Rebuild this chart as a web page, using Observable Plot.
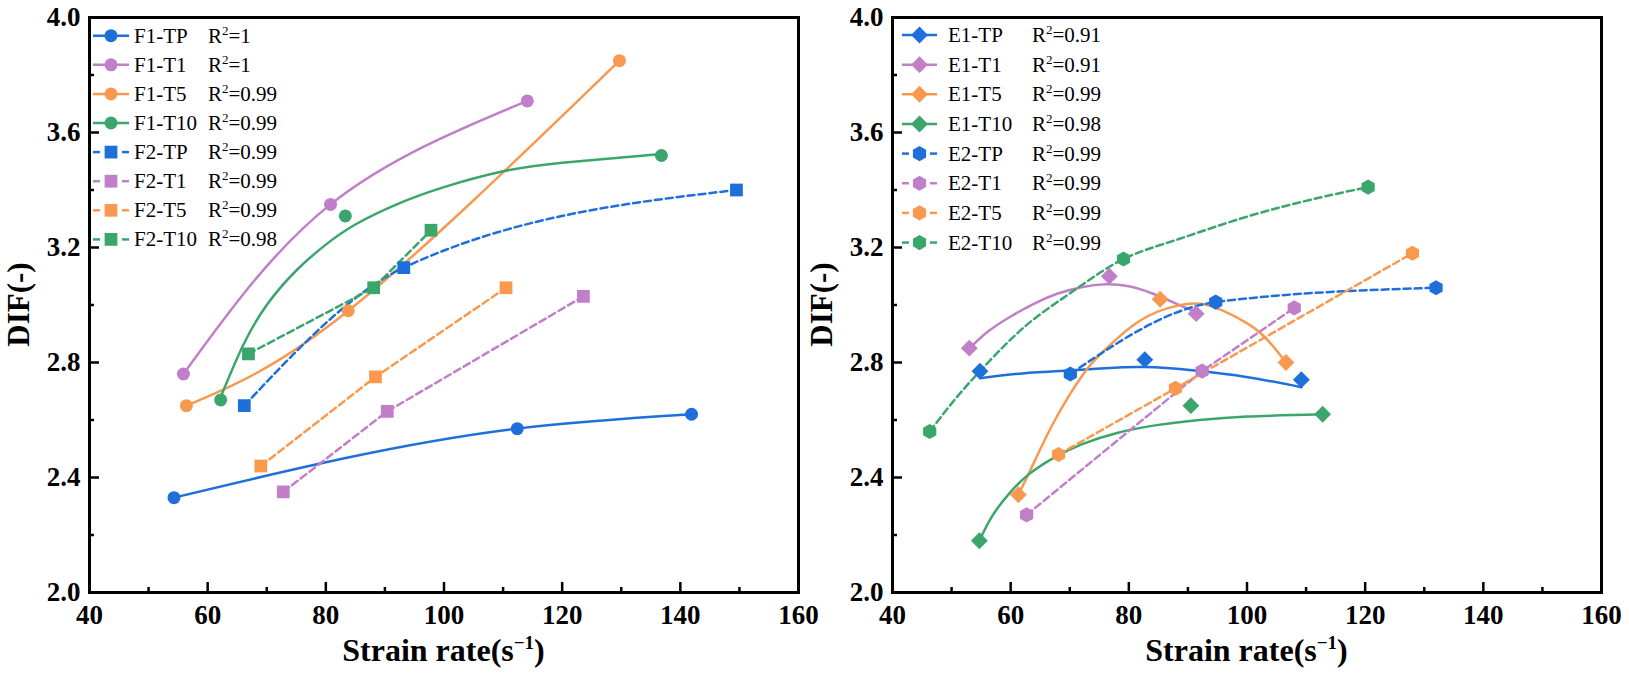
<!DOCTYPE html>
<html><head><meta charset="utf-8">
<script src="https://cdn.jsdelivr.net/npm/d3@7"></script>
<script src="https://cdn.jsdelivr.net/npm/@observablehq/plot@0.6"></script>
<style>
body{margin:0;background:#fff;}
#wrap{position:relative;width:1629px;height:676px;overflow:hidden;background:#fff;}
.panel{position:absolute;top:0;}
</style></head><body>
<div id="wrap"><div id="left" class="panel" style="left:0px"></div><div id="right" class="panel" style="left:803px"></div></div>
<script>
// ---- axis ticks ----
const xMajor = [40, 60, 80, 100, 120, 140, 160];
const xMinor = [50, 70, 90, 110, 130, 150];
const yMajor = [2.0, 2.4, 2.8, 3.2, 3.6, 4.0];
const yMinor = [2.2, 2.6, 3.0, 3.4, 3.8];

// ---- left panel data (strain rate, DIF) ----
const f1TP  = [[54.3, 2.33], [112.4, 2.57], [141.9, 2.62]];
const f1T1  = [[55.9, 2.76], [80.8, 3.35], [114.1, 3.71]];
const f1T5  = [[56.4, 2.65], [83.8, 2.98], [129.7, 3.85]];
const f1T10 = [[62.2, 2.67], [83.3, 3.31], [136.8, 3.52]];
const f1T10Fit = [[62.2, 2.68], [66.0, 2.86], [70.0, 3.00], [75.0, 3.12], [80.0, 3.21], [85.0, 3.28], [92.0, 3.35], [100.0, 3.41], [110.0, 3.465], [120.0, 3.495], [136.8, 3.525]];
const f2TP  = [[66.2, 2.65], [93.2, 3.13], [149.5, 3.40]];
const f2T1  = [[72.8, 2.35], [90.4, 2.63], [123.6, 3.03]];
const f2T5  = [[69.0, 2.44], [88.4, 2.75], [110.5, 3.06]];
const f2T10 = [[66.9, 2.83], [88.1, 3.06], [97.8, 3.26]];

// ---- right panel data ----
const e1TP  = [[54.8, 2.77], [82.7, 2.81], [109.2, 2.74]];
const e1TPFit = [[54.8, 2.745], [62.0, 2.762], [69.9, 2.772], [76.0, 2.780], [82.7, 2.784], [91.1, 2.772], [100.1, 2.749], [109.2, 2.714]];
const e1T1  = [[53.0, 2.85], [76.7, 3.10], [91.4, 2.97]];
const e1T1Fit = [[53.0, 2.848], [56.0, 2.905], [60.0, 2.96], [64.0, 3.005], [68.0, 3.04], [72.0, 3.062], [76.0, 3.072], [80.0, 3.065], [84.0, 3.04], [88.0, 3.005], [91.4, 2.974]];
const e1T5  = [[61.3, 2.34], [85.3, 3.02], [106.6, 2.80]];
const e1T5Fit = [[61.3, 2.34], [63.9, 2.45], [67.5, 2.60], [72.3, 2.76], [76.0, 2.845], [82.0, 2.947], [88.1, 2.997], [91.1, 3.005], [94.1, 2.995], [100.1, 2.935], [103.8, 2.871], [106.6, 2.80]];
const e1T10 = [[54.7, 2.18], [90.5, 2.65], [112.8, 2.62]];
const e1T10Fit = [[54.7, 2.18], [57.0, 2.27], [60.0, 2.35], [63.0, 2.41], [67.0, 2.465], [72.0, 2.515], [78.0, 2.555], [85.0, 2.583], [92.0, 2.600], [100.0, 2.612], [112.8, 2.62]];
const e2TP  = [[70.1, 2.76], [94.7, 3.01], [132.0, 3.06]];
const e2T1  = [[62.7, 2.27], [92.4, 2.77], [108.0, 2.99]];
const e2T5  = [[68.1, 2.48], [87.9, 2.71], [128.0, 3.18]];
const e2T10 = [[46.3, 2.56], [79.1, 3.16], [120.5, 3.41]];
const e2T10Fit = [[46.3, 2.56], [50.5, 2.67], [54.8, 2.77], [59.5, 2.87], [64.5, 2.96], [71.4, 3.06], [79.1, 3.16], [88.1, 3.227], [100.1, 3.308], [112.2, 3.373], [120.5, 3.41]];

// ---- legend labels ----
const leftNames  = ["F1-TP", "F1-T1", "F1-T5", "F1-T10", "F2-TP", "F2-T1", "F2-T5", "F2-T10"];
const leftR2     = ["1", "1", "0.99", "0.99", "0.99", "0.99", "0.99", "0.98"];
const rightNames = ["E1-TP", "E1-T1", "E1-T5", "E1-T10", "E2-TP", "E2-T1", "E2-T5", "E2-T10"];
const rightR2    = ["0.91", "0.91", "0.99", "0.98", "0.99", "0.99", "0.99", "0.99"];

// ---- styles ----
const BLUE = "#1f6fdb", PURPLE = "#c07fc8", ORANGE = "#f8994f", GREEN = "#3aa66c";
const FONT = "'Liberation Serif', 'DejaVu Serif', serif";

const leftSeries = [
  {points: f1TP,  fit: f1TP,     curve: "monotone-x", color: BLUE,   dashed: false, symbol: "circle", r: 6.5},
  {points: f1T1,  fit: f1T1,     curve: "natural",    color: PURPLE, dashed: false, symbol: "circle", r: 6.5},
  {points: f1T5,  fit: f1T5,     curve: "natural",    color: ORANGE, dashed: false, symbol: "circle", r: 6.5},
  {points: f1T10, fit: f1T10Fit, curve: "natural",    color: GREEN,  dashed: false, symbol: "circle", r: 6.5},
  {points: f2TP,  fit: f2TP,     curve: "monotone-x", color: BLUE,   dashed: true,  symbol: "square", r: 7.2},
  {points: f2T1,  fit: f2T1,     curve: "linear",     color: PURPLE, dashed: true,  symbol: "square", r: 7.2},
  {points: f2T5,  fit: f2T5,     curve: "linear",     color: ORANGE, dashed: true,  symbol: "square", r: 7.2},
  {points: f2T10, fit: f2T10,    curve: "linear",     color: GREEN,  dashed: true,  symbol: "square", r: 7.2}
];
const rightSeries = [
  {points: e1TP,  fit: e1TPFit,  curve: "natural",    color: BLUE,   dashed: false, symbol: "diamond2", r: 7.6},
  {points: e1T1,  fit: e1T1Fit,  curve: "natural",    color: PURPLE, dashed: false, symbol: "diamond2", r: 7.6},
  {points: e1T5,  fit: e1T5Fit,  curve: "natural",    color: ORANGE, dashed: false, symbol: "diamond2", r: 7.6},
  {points: e1T10, fit: e1T10Fit, curve: "natural",    color: GREEN,  dashed: false, symbol: "diamond2", r: 7.6},
  {points: e2TP,  fit: e2TP,     curve: "monotone-x", color: BLUE,   dashed: true,  symbol: "hexagon",  r: 6.6},
  {points: e2T1,  fit: e2T1,     curve: "linear",     color: PURPLE, dashed: true,  symbol: "hexagon",  r: 6.6},
  {points: e2T5,  fit: e2T5,     curve: "linear",     color: ORANGE, dashed: true,  symbol: "hexagon",  r: 6.6},
  {points: e2T10, fit: e2T10Fit, curve: "natural",    color: GREEN,  dashed: true,  symbol: "hexagon",  r: 6.6}
];

function hexPath(r) {
  const rx = r, ry = r * 2 / Math.sqrt(3), hy = ry / 2;
  return `M0,${ry}L${rx},${hy}L${rx},${-hy}L0,${-ry}L${-rx},${-hy}L${-rx},${hy}Z`;
}
function symPath(sym, r) {
  if (sym === "hexagon") return hexPath(r);
  const t = {circle: d3.symbolCircle, square: d3.symbolSquare, diamond2: d3.symbolDiamond2}[sym];
  return d3.symbol(t, Math.PI * r * r)();
}

function drawPanel(elId, series, names, r2s, leg) {
  const W = 810, H = 676, mL = 89, mR = 12, mT = 17, mB = 84;
  const pw = W - mL - mR, ph = H - mT - mB;
  const tickStyle = {stroke: "black", strokeWidth: 2.5};
  const marks = [];
  for (const s of series) {
    marks.push(Plot.line(s.fit, {x: d => d[0], y: d => d[1], stroke: s.color, strokeWidth: 2.5,
      strokeDasharray: s.dashed ? "7,4" : null, curve: s.curve}));
  }
  for (const s of series) {
    marks.push(Plot.dot(s.points, {x: d => d[0], y: d => d[1], symbol: s.symbol, fill: s.color, stroke: "none", r: s.r}));
  }
  marks.push(Plot.tickX(xMajor, {x: d => d, insetTop: ph - 10, ...tickStyle}));
  marks.push(Plot.tickX(xMinor, {x: d => d, insetTop: ph - 5, ...tickStyle}));
  marks.push(Plot.tickY(yMajor, {y: d => d, insetRight: pw - 10, ...tickStyle}));
  marks.push(Plot.tickY(yMinor, {y: d => d, insetRight: pw - 5, ...tickStyle}));
  marks.push(Plot.axisX({ticks: xMajor, tickSize: 0, tickPadding: 12, tickFormat: d => String(d),
    fontSize: 27, fontWeight: "bold", fontFamily: FONT, fill: "black", label: null}));
  marks.push(Plot.axisY({ticks: yMajor, tickSize: 0, tickPadding: 9, tickFormat: d => d.toFixed(1),
    fontSize: 27, fontWeight: "bold", fontFamily: FONT, fill: "black", label: null}));
  marks.push(Plot.frame({stroke: "black", strokeWidth: 3}));

  const svg = Plot.plot({
    width: W, height: H, marginLeft: mL, marginRight: mR, marginTop: mT, marginBottom: mB,
    x: {domain: [40, 160]}, y: {domain: [2, 4]},
    style: {fontFamily: FONT, fontSize: "27px", fontWeight: "bold", color: "black", background: "transparent", overflow: "visible"},
    marks
  });
  document.getElementById(elId).appendChild(svg);

  const g = d3.select(svg).append("g").attr("font-family", FONT).attr("text-anchor", "start");
  // x label
  const xl = g.append("text").attr("x", mL + pw / 2).attr("y", 661).attr("text-anchor", "middle")
    .attr("font-size", 32).attr("font-weight", "bold").attr("fill", "black");
  xl.append("tspan").text("Strain rate(s");
  xl.append("tspan").attr("dy", -12).attr("font-size", 19).text("\u22121");
  xl.append("tspan").attr("dy", 12).text(")");
  // y label
  g.append("text").attr("transform", `translate(29,${mT + ph / 2}) rotate(-90)`).attr("text-anchor", "middle")
    .attr("font-size", 31).attr("font-weight", "bold").attr("fill", "black").text("DIF(-)");
  // legend
  const lg = g.append("g").attr("font-size", 21).attr("font-weight", "normal").attr("fill", "black").attr("text-anchor", "start");
  series.forEach((s, i) => {
    const y = leg.y0 + leg.dy * i;
    if (s.dashed) {
      lg.append("line").attr("x1", leg.x1).attr("x2", leg.x1 + 7).attr("y1", y).attr("y2", y)
        .attr("stroke", s.color).attr("stroke-width", 2.5);
      lg.append("line").attr("x1", leg.x2 - 7).attr("x2", leg.x2).attr("y1", y).attr("y2", y)
        .attr("stroke", s.color).attr("stroke-width", 2.5);
    } else {
      lg.append("line").attr("x1", leg.x1).attr("x2", leg.x2).attr("y1", y).attr("y2", y)
        .attr("stroke", s.color).attr("stroke-width", 2.5);
    }
    lg.append("path").attr("d", symPath(s.symbol, s.r)).attr("transform", `translate(${(leg.x1 + leg.x2) / 2},${y})`)
      .attr("fill", s.color);
    lg.append("text").attr("x", leg.tx).attr("y", y + 7).text(names[i]);
    const t = lg.append("text").attr("x", leg.rx).attr("y", y + 7);
    t.append("tspan").text("R");
    t.append("tspan").attr("dy", -8).attr("font-size", 13).text("2");
    t.append("tspan").attr("dy", 8).text("=" + r2s[i]);
  });
}

drawPanel("left", leftSeries, leftNames, leftR2, {y0: 35.7, dy: 29.1, x1: 93, x2: 129, tx: 134, rx: 208});
drawPanel("right", rightSeries, rightNames, rightR2, {y0: 35, dy: 29.65, x1: 99, x2: 134, tx: 145, rx: 229});
</script>
</body></html>
